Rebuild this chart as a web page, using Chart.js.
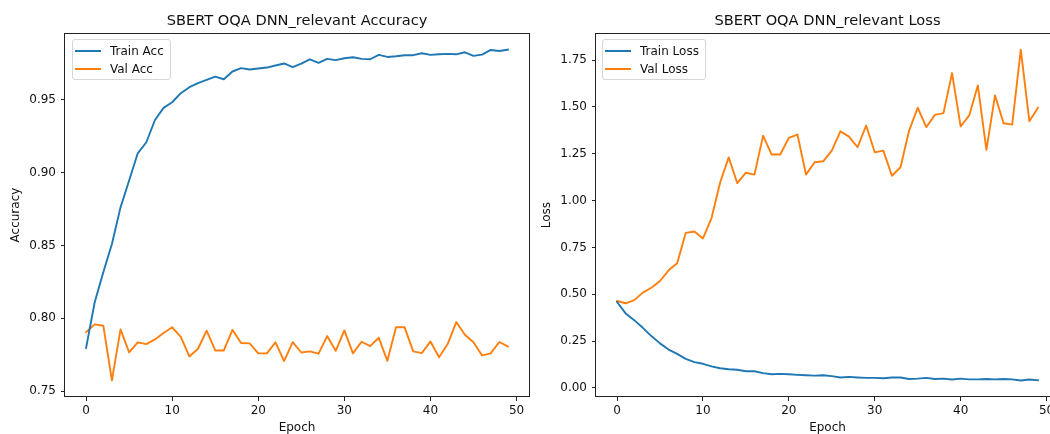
<!DOCTYPE html>
<html>
<head>
<meta charset="utf-8">
<script src="https://cdn.jsdelivr.net/npm/chart.js@4.4.1/dist/chart.umd.min.js"></script>
<style>
html,body{margin:0;padding:0;width:1050px;height:434px;overflow:hidden;background:#fff;}
#wrap{position:relative;width:1050px;height:434px;overflow:hidden;}
canvas{position:absolute;top:0;}
.legend{position:absolute;box-sizing:border-box;border:1px solid #d6d6d6;border-radius:3px;background:rgba(255,255,255,0.8);font:12px "DejaVu Sans",sans-serif;color:#111;padding:1px 6px 0 0;}
.legend .row{display:flex;align-items:center;height:18.7px;white-space:nowrap;}
.legend .sw{width:26px;height:1.9px;margin-left:2.3px;margin-right:9px;}
</style>
</head>
<body>
<div id="wrap">
  <canvas id="c1" width="530" height="434" style="left:0px;width:530px;height:434px"></canvas>
  <canvas id="c2" width="560" height="434" style="left:530px;width:560px;height:434px"></canvas>
  <div id="lg1" class="legend" style="left:71.7px;top:39.3px"></div>
  <div id="lg2" class="legend" style="left:601.7px;top:39.3px"></div>
</div>
<script>
const epochs = [0,1,2,3,4,5,6,7,8,9,10,11,12,13,14,15,16,17,18,19,20,21,22,23,24,25,26,27,28,29,30,31,32,33,34,35,36,37,38,39,40,41,42,43,44,45,46,47,48,49];
const trainAcc = [0.7796,0.8110,0.8316,0.8510,0.8762,0.8946,0.9133,0.9209,0.9362,0.9445,0.9484,0.9546,0.9587,0.9615,0.9637,0.9660,0.9642,0.9695,0.9718,0.9709,0.9716,0.9722,0.9736,0.9750,0.9725,0.9749,0.9778,0.9754,0.9782,0.9773,0.9786,0.9793,0.9782,0.9779,0.9809,0.9795,0.9800,0.9807,0.9807,0.9820,0.9809,0.9813,0.9816,0.9813,0.9827,0.9802,0.9811,0.9843,0.9836,0.9845];
const valAcc = [0.7905,0.7958,0.7949,0.7573,0.7924,0.7766,0.7835,0.7823,0.7855,0.7899,0.7938,0.7873,0.7738,0.7791,0.7915,0.7779,0.7779,0.7921,0.7830,0.7828,0.7759,0.7759,0.7835,0.7706,0.7836,0.7765,0.7773,0.7757,0.7878,0.7777,0.7917,0.7759,0.7839,0.7809,0.7866,0.7708,0.7938,0.7938,0.7773,0.7761,0.7841,0.7732,0.7823,0.7974,0.7887,0.7835,0.7745,0.7759,0.7837,0.7807];
const trainLoss = [0.459,0.398,0.362,0.321,0.277,0.238,0.205,0.182,0.155,0.138,0.129,0.115,0.105,0.100,0.097,0.089,0.089,0.079,0.073,0.075,0.073,0.070,0.068,0.066,0.068,0.063,0.056,0.059,0.056,0.054,0.054,0.052,0.056,0.056,0.048,0.050,0.054,0.048,0.050,0.045,0.050,0.046,0.046,0.048,0.046,0.048,0.046,0.040,0.045,0.041];
const valLoss = [0.464,0.452,0.469,0.509,0.535,0.571,0.628,0.666,0.828,0.835,0.798,0.907,1.097,1.231,1.093,1.149,1.139,1.347,1.246,1.246,1.335,1.353,1.139,1.205,1.210,1.267,1.370,1.342,1.285,1.401,1.258,1.267,1.133,1.178,1.374,1.496,1.392,1.458,1.467,1.681,1.396,1.455,1.615,1.271,1.562,1.413,1.406,1.806,1.424,1.496];
const xTicks = [0,10,20,30,40,50];
const accTicks = [0.75,0.80,0.85,0.90,0.95];
const lossTicks = [0.00,0.25,0.50,0.75,1.00,1.25,1.50,1.75];
const titles = ['SBERT OQA DNN_relevant Accuracy','SBERT OQA DNN_relevant Loss'];
const accLabels = ['Train Acc','Val Acc'];
const lossLabels = ['Train Loss','Val Loss'];
const yTitles = ['Accuracy','Loss'];
const xTitle = 'Epoch';
const COLORS = ['#1f77b4','#ff7f0e'];
const FONT = '"DejaVu Sans", sans-serif';
const TXT = '#111';

function padRange(arrs){
  let lo = Infinity, hi = -Infinity;
  arrs.forEach(a => a.forEach(v => { if (v < lo) lo = v; if (v > hi) hi = v; }));
  const m = (hi - lo) * 0.05;
  return [lo - m, hi + m];
}

const frame = {
  id: 'frame',
  afterDatasetsDraw(chart){
    const a = chart.chartArea, ctx = chart.ctx;
    ctx.save();
    ctx.strokeStyle = '#222';
    ctx.lineWidth = 1;
    ctx.strokeRect(Math.round(a.left) - 0.5, Math.round(a.top) + 0.5, Math.round(a.right - a.left) + 1, Math.round(a.bottom - a.top) - 1);
    ctx.restore();
  }
};

function makeChart(canvas, p){
  const [ymin, ymax] = padRange(p.series);
  const [xmin, xmax] = padRange([epochs]);
  return new Chart(canvas, {
    type: 'line',
    data: {
      datasets: p.series.map((s, k) => ({
        label: p.labels[k],
        data: epochs.map((e, i) => ({x: e, y: s[i]})),
        borderColor: COLORS[k],
        backgroundColor: COLORS[k],
        borderWidth: 1.9,
        borderJoinStyle: 'round',
        borderCapStyle: 'square',
        pointRadius: 0,
        pointHoverRadius: 0,
        tension: 0,
        fill: false
      }))
    },
    options: {
      responsive: false,
      animation: false,
      devicePixelRatio: 1,
      events: [],
      layout: {padding: {left: 0, right: p.padRight, top: 0, bottom: 0}},
      plugins: {
        legend: {display: false},
        tooltip: {enabled: false},
        title: {
          display: true, text: p.title, fullSize: false,
          font: {family: FONT, size: 14.6, weight: 'normal'}, color: TXT,
          padding: {top: 12, bottom: 3.6}
        }
      },
      scales: {
        x: {
          type: 'linear', min: xmin, max: xmax,
          afterFit: s => { s.height = 37; },
          afterBuildTicks: s => { s.ticks = xTicks.map(v => ({value: v})); },
          ticks: {font: {family: FONT, size: 12}, color: TXT, padding: 3, maxRotation: 0, autoSkip: false, callback: v => String(v)},
          grid: {drawOnChartArea: false, drawTicks: true, tickLength: 4, tickColor: '#222', lineWidth: 1},
          border: {display: false},
          title: {display: true, text: xTitle, font: {family: FONT, size: 12, lineHeight: 1.0}, color: TXT, padding: {top: 0, bottom: 0}}
        },
        y: {
          type: 'linear', min: ymin, max: ymax,
          afterFit: s => { s.width = p.yWidth; },
          afterBuildTicks: s => { s.ticks = p.yTicks.map(v => ({value: v})); },
          ticks: {font: {family: FONT, size: 12}, color: TXT, padding: 5, autoSkip: false, callback: v => Number(v).toFixed(2)},
          grid: {drawOnChartArea: false, drawTicks: true, tickLength: 4, tickColor: '#222', lineWidth: 1},
          border: {display: false},
          title: {display: true, text: p.yTitle, font: {family: FONT, size: 12}, color: TXT, padding: {top: p.yTitlePad, bottom: 0}}
        }
      }
    },
    plugins: [frame]
  });
}

function makeLegend(el, labels){
  labels.forEach((lab, k) => {
    const row = document.createElement('div');
    row.className = 'row';
    const sw = document.createElement('span');
    sw.className = 'sw';
    sw.style.background = COLORS[k];
    const tx = document.createElement('span');
    tx.textContent = lab;
    row.appendChild(sw); row.appendChild(tx);
    el.appendChild(row);
  });
}

makeChart(document.getElementById('c1'), {
  series: [trainAcc, valAcc], labels: accLabels, title: titles[0], yTitle: yTitles[0],
  yTicks: accTicks, yWidth: 65, yTitlePad: 8.8, padRight: 1
});
makeChart(document.getElementById('c2'), {
  series: [trainLoss, valLoss], labels: lossLabels, title: titles[1], yTitle: yTitles[1],
  yTicks: lossTicks, yWidth: 66, yTitlePad: 9.8, padRight: 31
});
makeLegend(document.getElementById('lg1'), accLabels);
makeLegend(document.getElementById('lg2'), lossLabels);
</script>
</body>
</html>
